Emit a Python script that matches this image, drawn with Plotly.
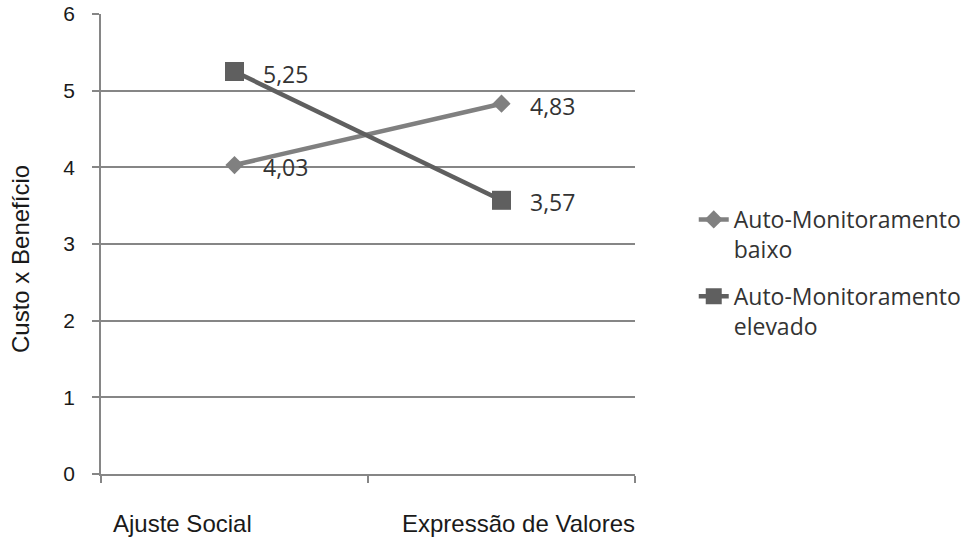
import plotly.graph_objects as go

categories = ["Ajuste Social", "Expressão de Valores"]
series_names = ["Auto-Monitoramento<br>baixo", "Auto-Monitoramento<br>elevado"]
baixo = [4.03, 4.83]
elevado = [5.25, 3.57]
y_ticks = [0, 1, 2, 3, 4, 5, 6]
y_title = "Custo x Benefício"

x_pos = list(range(len(categories)))
colors = ["#808080", "#5f5f5f"]
symbols = ["diamond", "square"]
sizes = [14, 19]

fig = go.Figure()
for name, vals, col, sym, sz in zip(series_names, [baixo, elevado], colors, symbols, sizes):
    fig.add_trace(go.Scatter(
        x=x_pos, y=vals, name=name, mode="lines+markers",
        line=dict(color=col, width=4.5),
        marker=dict(symbol=sym, size=sz, color=col),
        legendgroup=name, hoverinfo="skip",
    ))

annotations = []
for vals in [baixo, elevado]:
    for xi, v in zip(x_pos, vals):
        annotations.append(dict(
            x=xi, y=v, xref="x", yref="y", text=f"{v:.2f}".replace(".", ","),
            showarrow=False, xanchor="left", yanchor="middle", xshift=26, yshift=-2,
            font=dict(family="Open Sans", size=23, color="#333333"),
        ))

cat_shift = [-52, 17]
for xi, c, s in zip(x_pos, categories, cat_shift):
    annotations.append(dict(
        x=xi, y=0, xref="x", yref="paper", text=c, showarrow=False,
        xanchor="center", yanchor="middle", xshift=s, yshift=-49,
        font=dict(family="Liberation Sans", size=24, color="#1a1a1a"),
    ))

annotations.append(dict(
    x=0, y=0.5, xref="paper", yref="paper", text=y_title, showarrow=False,
    textangle=-90, xanchor="center", yanchor="middle", xshift=-81, yshift=-15,
    font=dict(family="Liberation Sans", size=24, color="#1a1a1a"),
))

fig.update_layout(
    template="none",
    width=966, height=537,
    margin=dict(l=101, r=331, t=14, b=63, autoexpand=False),
    paper_bgcolor="white", plot_bgcolor="white",
    showlegend=True,
    legend=dict(
        x=1.11, xanchor="left", y=0.6, yanchor="top",
        font=dict(family="Open Sans", size=23, color="#333333"),
        valign="top", tracegroupgap=14, bgcolor="rgba(0,0,0,0)",
    ),
    annotations=annotations,
)
fig.update_xaxes(
    range=[-0.5, len(categories) - 0.5], automargin=False,
    tickmode="array", tickvals=[-0.5, 0.5, 1.5], showticklabels=False,
    ticks="outside", ticklen=7, tickcolor="#868686", tickwidth=1.5,
    showline=True, linecolor="#868686", linewidth=1.5,
    showgrid=False, zeroline=False, fixedrange=True,
)
fig.update_yaxes(
    range=[0, 6], tickmode="array", tickvals=y_ticks, automargin=False,
    ticks="outside", ticklen=7, tickcolor="#868686", tickwidth=1.5,
    showline=True, linecolor="#868686", linewidth=1.5,
    showgrid=True, gridcolor="#868686", gridwidth=1.5, zeroline=False,
    tickfont=dict(family="Liberation Sans", size=21, color="#1a1a1a"),
    ticklabelstandoff=13,
    fixedrange=True,
)

fig.write_html("out.html")
